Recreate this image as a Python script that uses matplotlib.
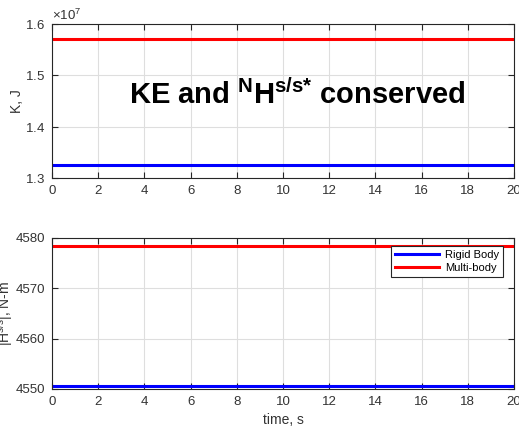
import numpy as np
import matplotlib
matplotlib.use('Agg')
import matplotlib.pyplot as plt
from matplotlib.ticker import ScalarFormatter

plt.rcParams['font.family'] = ['Liberation Sans', 'DejaVu Sans']
plt.rcParams['mathtext.fontset'] = 'custom'
plt.rcParams['mathtext.rm'] = 'Liberation Sans'
plt.rcParams['mathtext.it'] = 'Liberation Sans'
plt.rcParams['mathtext.bf'] = 'Liberation Sans:bold'

# data (constant over the run)
time = [0, 20]
ke_rigid = [1.3254e7, 1.3254e7]
ke_multi = [1.5707e7, 1.5707e7]
h_rigid = [4550.66, 4550.66]
h_multi = [4578.4, 4578.4]
legend_labels = ['Rigid Body', 'Multi-body']

axis_col = '#262626'
grid_col = '#dedede'
txt_col = '#333333'

fig = plt.figure(figsize=(5.19, 4.29), dpi=100)
ax1 = fig.add_axes([52 / 519, 1 - 178 / 429, 462 / 519, 154 / 429])
ax2 = fig.add_axes([52 / 519, 1 - 389 / 429, 462 / 519, 151 / 429])

def style(ax):
  ax.set_xlim(0, 20)
  ax.set_xticks(np.arange(0, 21, 2))
  ax.grid(True, color=grid_col, linewidth=0.8)
  ax.set_axisbelow(True)
  ax.tick_params(direction='in', top=True, right=True, length=4, width=0.8,
                 colors=axis_col, labelsize=9.5, labelcolor=txt_col, pad=5)
  for s in ax.spines.values():
    s.set_color(axis_col)
    s.set_linewidth(0.8)

# top: kinetic energy
ax1.plot(time, ke_rigid, color=(0, 0, 1), lw=2.2)
ax1.plot(time, ke_multi, color=(1, 0, 0), lw=2.2)
style(ax1)
ax1.set_ylim(1.3e7, 1.6e7)
ax1.set_yticks([1.3e7, 1.4e7, 1.5e7, 1.6e7])
fmt = ScalarFormatter(useMathText=True)
fmt.set_powerlimits((0, 0))
ax1.yaxis.set_major_formatter(fmt)
ax1.yaxis.get_offset_text().set_fontsize(9.5)
ax1.yaxis.get_offset_text().set_color(txt_col)
ax1.set_ylabel('K, J', fontsize=10, color=txt_col)
ax1.yaxis.set_label_coords(-0.060, 0.5)
ax1.text(10.6, 1.462e7,
         r'$\mathbf{KE\ and\ {}^{N}H^{s/s{*}}\ conserved}$',
         fontsize=21, ha='center', va='center', color='black')

# bottom: angular momentum magnitude
ax2.plot(time, h_rigid, color=(0, 0, 1), lw=2.2, label=legend_labels[0])
ax2.plot(time, h_multi, color=(1, 0, 0), lw=2.2, label=legend_labels[1])
style(ax2)
ax2.set_ylim(4550, 4580)
ax2.set_yticks([4550, 4560, 4570, 4580])
ax2.set_ylabel(r'$|\mathrm{H}^{s/s}|$, N-m', fontsize=10, color=txt_col)
ax2.yaxis.set_label_coords(-0.081, 0.5)
ax2.set_xlabel('time, s', fontsize=10, color=txt_col)
leg = ax2.legend(loc='upper right', bbox_to_anchor=(1 - 11 / 462, 1 - 8 / 151),
                 borderaxespad=0, fontsize=8, handlelength=4.0, fancybox=False,
                 framealpha=1, edgecolor=axis_col, labelspacing=0.25,
                 borderpad=0.35, handletextpad=0.5)
leg.get_frame().set_linewidth(0.8)

fig.savefig('out.png', dpi=100)
